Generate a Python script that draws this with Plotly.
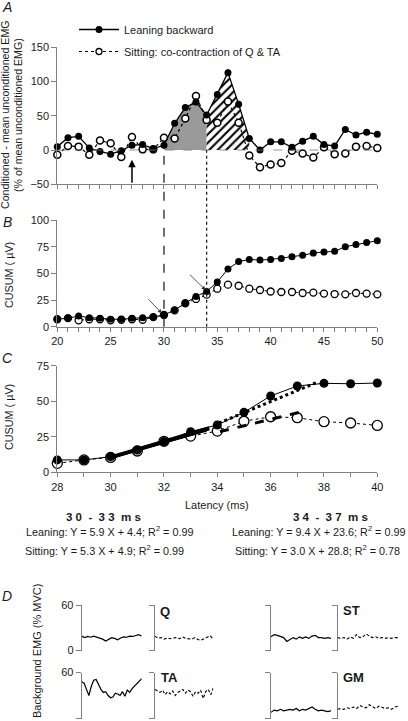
import plotly.graph_objects as go

W, H = 408, 721

# ---------------- data ----------------
lat_a = list(range(20, 51))
lean_a = [5, 18, 20, 3, -2, -6, -1, 7, 8, 2, 7, 39, 62, 70, 51, 81, 113, 67, 17, 0,
          12, 12, 4, 13, 20, 8, 6, 30, 22, 26, 23]
sit_a = [-7, 6, 5, -7, 14, 10, -10, 19, 1, 1, 18, 17, 46, 79, 44, 40, 71, 40, -8, -25,
         -21, -19, -1, -5, -11, 4, -6, -5, 5, 6, 3]
lean_a_err = [4, 4, 4, 3, 3, 3, 3, 4, 4, 3, 3, 4, 4, 5, 4, 4, 5, 5, 4, 3,
              3, 3, 3, 3, 3, 3, 3, 3, 3, 3, 3]
sit_a_err = [4, 4, 4, 4, 4, 4, 4, 5, 4, 4, 5, 4, 5, 5, 4, 4, 5, 5, 4, 4,
             4, 4, 3, 3, 4, 3, 3, 3, 3, 3, 3]

lat_b = list(range(20, 51))
lean_b = [7, 8, 10, 8.5, 8, 7, 7, 8, 8.5, 9, 11, 15.6, 22, 28.4, 33, 42, 54, 61, 63, 62.5,
          63, 64, 65.6, 67, 69, 70, 70.6, 75, 77, 79, 80.6]
sit_b = [7, 8, 6, 7, 7, 6, 6.5, 7, 6.5, 9, 11, 15.3, 22, 26, 30, 35.6, 39.4, 38.4, 35.6, 34.4,
         33, 32.5, 32.5, 31.6, 32, 31, 30.6, 30.3, 31.6, 31, 30.3]

# panel C = zoom on 28-40 ms
lat_c = list(range(28, 41))
lean_c = [8.7, 8.7, 11, 15.7, 21.6, 28.6, 33.3, 42.2, 53.7, 60.7, 62.6, 62.3, 62.8]
sit_c = [6.3, 8.7, 10.5, 15, 21.8, 25.5, 29, 35.9, 39.1, 38.4, 35.6, 34.7, 33]

window_bounds = [30, 34]          # onset of the two analysis windows (ms)
hatch_end = 38

# regression lines as drawn in panel C (start/end latency and CUSUM value)
fit_names = ["lean1", "sit1", "lean2", "sit2"]
fit_x0 = [30, 30, 33.85, 34.1]
fit_y0 = [10.5, 10.2, 33, 28.6]
fit_x1 = [33.7, 33.6, 37.7, 37.35]
fit_y1 = [31, 29.5, 63, 43.4]

eq_left = ["Leaning: Y = 5.9 X + 4.4; R<sup>2</sup> = 0.99",
           "Sitting: Y = 5.3 X + 4.9; R<sup>2</sup> = 0.99"]
eq_right = ["Leaning: Y = 9.4 X + 23.6; R<sup>2</sup> = 0.99",
            "Sitting: Y = 3.0 X + 28.8; R<sup>2</sup> = 0.78"]

# panel D background EMG (% MVC)
q_lean = [19, 17, 18.5, 17.5, 19, 18, 17, 15, 12.5, 15, 17, 16, 14, 16.5, 18, 17.5, 19, 18.5, 20, 21, 19]
q_sit = [19, 16, 17, 15, 16.5, 15.5, 16.5, 17, 15.5, 17.8, 16, 15.5, 15, 17, 14.5, 13.5, 15.5, 18, 19.5, 15]
ta_lean = [48, 46, 38, 30, 42, 50, 51, 44, 38, 34, 35, 30, 27, 28, 33, 32, 30, 35, 29, 37, 34, 39, 42, 45, 48, 52]
ta_sit = [38, 36, 34, 37, 31, 35, 32, 36, 30, 34, 36, 38, 33, 37, 35, 29, 35, 33, 37, 26, 35, 38, 31, 40]
st_lean = [18, 21, 20, 19, 17, 12, 15, 17, 15, 18, 16, 18, 16, 19, 20, 17, 17, 16, 17, 16]
st_sit = [17, 16, 17, 15, 18, 16, 21, 17, 18, 22, 19, 17, 18, 16, 17, 16, 17, 16, 17, 17]
gm_lean = [8, 11, 10, 12, 10, 11, 12, 11, 13, 10, 12, 11, 13, 15, 12, 10, 11, 10, 9, 10]
gm_sit = [12, 13, 12, 14, 13, 15, 13, 17, 15, 14, 18, 15, 13, 16, 14, 13, 14, 12, 15, 16]
muscles = ["Q", "ST", "TA", "GM"]

# ---------------- helpers ----------------
def px(x):
    return x / W

def py(y):
    return 1 - y / H

FONT = "Liberation Sans, Arial, sans-serif"
TXT = "#1a1a1a"
AX = "#808080"
FS = 11

fig = go.Figure()

# ---------------- panel A ----------------
g_x = [x for x in lat_a if window_bounds[0] <= x <= window_bounds[1]]
g_y = [lean_a[lat_a.index(x)] for x in g_x]
fig.add_trace(go.Scatter(x=g_x + [g_x[-1], g_x[0]], y=g_y + [0, 0], fill="toself",
                         fillcolor="#9a9a9a", line=dict(width=0), mode="lines",
                         hoverinfo="skip", showlegend=False, xaxis="x", yaxis="y"))
h_x = [x for x in lat_a if window_bounds[1] <= x <= hatch_end]
h_y = [lean_a[lat_a.index(x)] for x in h_x]
fig.add_trace(go.Scatter(x=h_x + [h_x[-1], h_x[0]], y=h_y + [0, 0], fill="toself",
                         fillcolor="white",
                         fillpattern=dict(shape="/", fgcolor="black", bgcolor="white",
                                          size=6, solidity=0.35),
                         line=dict(width=0), mode="lines",
                         hoverinfo="skip", showlegend=False, xaxis="x", yaxis="y"))

fig.add_trace(go.Scatter(x=lat_a, y=sit_a, mode="lines+markers",
                         name="Sitting: co-contraction of Q & TA",
                         line=dict(color="black", width=1.2, dash="dot"),
                         marker=dict(symbol="circle", size=7, color="white",
                                     line=dict(color="black", width=1.5)),
                         error_y=dict(type="data", array=sit_a_err, color="black",
                                      thickness=1, width=0),
                         cliponaxis=False, showlegend=False, xaxis="x", yaxis="y"))
fig.add_trace(go.Scatter(x=lat_a, y=lean_a, mode="lines+markers",
                         name="Leaning backward",
                         line=dict(color="black", width=1.3),
                         marker=dict(symbol="circle", size=7, color="black"),
                         error_y=dict(type="data", array=lean_a_err, color="black",
                                      thickness=1, width=0),
                         cliponaxis=False, showlegend=False, xaxis="x", yaxis="y"))

# legend-only traces
fig.add_trace(go.Scatter(x=[None], y=[None], mode="lines+markers", name="Leaning backward",
                         legendgroup="g1",
                         line=dict(color="black", width=1.3),
                         marker=dict(symbol="circle", size=7, color="black"),
                         xaxis="x", yaxis="y"))
fig.add_trace(go.Scatter(x=[None], y=[None], mode="lines+markers",
                         name="Sitting: co-contraction of Q & TA", legendgroup="g2",
                         line=dict(color="black", width=1.2, dash="dot"),
                         marker=dict(symbol="circle", size=6, color="white",
                                     line=dict(color="black", width=1.3)),
                         xaxis="x", yaxis="y"))

# ---------------- panel B ----------------
fig.add_trace(go.Scatter(x=lat_b, y=sit_b, mode="lines+markers",
                         line=dict(color="black", width=1, dash="dot"),
                         marker=dict(symbol="circle", size=7, color="white",
                                     line=dict(color="black", width=1.3)),
                         cliponaxis=False, showlegend=False, xaxis="x2", yaxis="y2"))
fig.add_trace(go.Scatter(x=lat_b, y=lean_b, mode="lines+markers",
                         line=dict(color="black", width=1),
                         marker=dict(symbol="circle", size=7, color="black"),
                         cliponaxis=False, showlegend=False, xaxis="x2", yaxis="y2"))

# ---------------- panel C ----------------
fig.add_trace(go.Scatter(x=lat_c, y=sit_c, mode="lines+markers",
                         line=dict(color="black", width=1, dash="dot"),
                         marker=dict(symbol="circle", size=10, color="white",
                                     line=dict(color="black", width=1.3)),
                         cliponaxis=False, showlegend=False, xaxis="x3", yaxis="y3"))
fig.add_trace(go.Scatter(x=lat_c, y=lean_c, mode="lines+markers",
                         line=dict(color="black", width=1),
                         marker=dict(symbol="circle", size=9, color="black"),
                         cliponaxis=False, showlegend=False, xaxis="x3", yaxis="y3"))

fit_styles = {"lean1": dict(width=4, dash="solid"),
              "sit1": dict(width=2.5, dash="solid"),
              "lean2": dict(width=3, dash="dot"),
              "sit2": dict(width=3, dash="dash")}
for n, x0, y0, x1, y1 in zip(fit_names, fit_x0, fit_y0, fit_x1, fit_y1):
    fig.add_trace(go.Scatter(x=[x0, x1], y=[y0, y1], mode="lines",
                             line=dict(color="black", **fit_styles[n]),
                             showlegend=False, xaxis="x3", yaxis="y3"))

# ---------------- panel D ----------------
d_pairs = [(q_lean, q_sit), (st_lean, st_sit), (ta_lean, ta_sit), (gm_lean, gm_sit)]
ax_i = 4
for lean_d, sit_d in d_pairs:
    fig.add_trace(go.Scatter(x=list(range(len(lean_d))), y=lean_d, mode="lines",
                             line=dict(color="black", width=1.2), showlegend=False,
                             xaxis=f"x{ax_i}", yaxis=f"y{ax_i}"))
    fig.add_trace(go.Scatter(x=list(range(len(sit_d))), y=sit_d, mode="lines",
                             line=dict(color="black", width=1.1, dash="3px,2px"),
                             showlegend=False,
                             xaxis=f"x{ax_i + 1}", yaxis=f"y{ax_i + 1}"))
    ax_i += 2

# ---------------- axes ----------------
xdom = [px(57.3), px(377.3)]
common_ax = dict(showgrid=False, zeroline=False, showline=True, linecolor=AX, linewidth=1,
                 ticks="outside", tickcolor=AX, tickwidth=1, automargin=False,
                 tickfont=dict(family=FONT, size=FS, color=TXT))

layout = dict(
    xaxis=dict(domain=xdom, range=[20, 50], dtick=5, tick0=20, ticklen=4,
               showticklabels=False, anchor="y",
               minor=dict(dtick=1, ticks="outside", ticklen=4, tickcolor=AX), **common_ax),
    yaxis=dict(domain=[py(184.3), py(47.3)], range=[-50, 150], dtick=50, ticklen=5,
               anchor="x", **common_ax),
    xaxis2=dict(domain=xdom, range=[20, 50], dtick=5, tick0=20, ticklen=4, anchor="y2",
                minor=dict(dtick=1, ticks="outside", ticklen=4, tickcolor=AX), **common_ax),
    yaxis2=dict(domain=[py(326.7), py(220)], range=[0, 100], dtick=25, ticklen=5,
                anchor="x2", **common_ax),
    xaxis3=dict(domain=xdom, range=[28, 40], dtick=2, tick0=28, ticklen=4, anchor="y3",
                minor=dict(dtick=1, ticks="outside", ticklen=4, tickcolor=AX), **common_ax),
    yaxis3=dict(domain=[py(472.3), py(365.7)], range=[0, 75], dtick=25, ticklen=5,
                anchor="x3", **common_ax),
)

d_x_doms = [[px(81.7), px(141.7)], [px(155), px(213.3)],
            [px(271), px(331)], [px(337.5), px(398)]]
d_y_doms = [[py(650.5), py(605)], [py(718.5), py(672.5)]]
d_layout = [(0, 0), (0, 1), (1, 0), (1, 1)]
ax_i = 4
for (row, col), (lean_d, sit_d) in zip(d_layout, d_pairs):
    for k, series in enumerate([lean_d, sit_d]):
        xd = d_x_doms[col * 2 + k]
        show_lbl = (col == 0 and k == 0)
        layout[f"xaxis{ax_i}"] = dict(domain=xd, range=[0, len(series) - 1], visible=False,
                                      automargin=False, anchor=f"y{ax_i}")
        layout[f"yaxis{ax_i}"] = dict(domain=d_y_doms[row], range=[0, 60],
                                      tickvals=[0, 60], ticklen=5,
                                      showticklabels=show_lbl, anchor=f"x{ax_i}",
                                      **common_ax)
        ax_i += 1

# ---------------- shapes ----------------
shapes = [
    dict(type="line", xref="x", yref="y", x0=20, x1=50, y0=0, y1=0,
         line=dict(color="#777777", width=0.8, dash="dash")),
    dict(type="line", xref="x", yref="paper", x0=window_bounds[0], x1=window_bounds[0],
         y0=py(326.7), y1=py(150), line=dict(color="#222222", width=1.3, dash="dash")),
    dict(type="line", xref="x", yref="paper", x0=window_bounds[1], x1=window_bounds[1],
         y0=py(326.7), y1=py(150), line=dict(color="#222222", width=1.3, dash="dot")),
]

# ---------------- annotations ----------------
def txt(x, y, s, size=FS, bold=False, italic=False, angle=0, xanchor="center"):
    if bold:
        s = f"<b>{s}</b>"
    if italic:
        s = f"<i>{s}</i>"
    return dict(x=px(x), y=py(y), xref="paper", yref="paper", text=s, showarrow=False,
                textangle=angle, xanchor=xanchor, yanchor="middle",
                font=dict(family=FONT, size=size, color=TXT))

EQ = 10.8
ann = [
    txt(7, 7, "A", size=14, italic=True),
    txt(7, 222, "B", size=14, italic=True),
    txt(7, 358, "C", size=14, italic=True),
    txt(7, 596, "D", size=14, italic=True),
    txt(5, 115, "Conditioned - mean unconditioned EMG", size=10.6, angle=-90),
    txt(18, 115, "(% of mean unconditioned EMG)", size=10.6, angle=-90),
    txt(9, 275, "CUSUM ( µV)", size=10.8, angle=-90),
    txt(9, 417, "CUSUM ( µV)", size=10.8, angle=-90),
    txt(217, 505, "Latency (ms)", size=FS),
    txt(103, 517, "3 0  -  3 3  m s", size=11.5, bold=True),
    txt(330, 517, "3 4  -  3 7  m s", size=11.5, bold=True),
    txt(109, 531, eq_left[0], size=EQ),
    txt(105, 550, eq_left[1], size=EQ),
    txt(318, 531, eq_right[0], size=EQ),
    txt(317, 550, eq_right[1], size=EQ),
    txt(37, 651, "Background EMG (% MVC)", size=FS, angle=-90),
    txt(158, 611, muscles[0], size=13, bold=True, xanchor="left"),
    txt(341, 610, muscles[1], size=13, bold=True, xanchor="left"),
    txt(159, 677, muscles[2], size=13, bold=True, xanchor="left"),
    txt(341, 677, muscles[3], size=13, bold=True, xanchor="left"),
    dict(x=27, y=-14, ax=27, ay=-50, xref="x", yref="y", axref="x", ayref="y",
         text="", showarrow=True, arrowhead=2, arrowsize=1, arrowwidth=1.5,
         arrowcolor="black"),
    dict(x=29.8, y=12.6, ax=28.4, ay=27.2, xref="x2", yref="y2", axref="x2", ayref="y2",
         text="", showarrow=True, arrowhead=2, arrowsize=1, arrowwidth=0.8,
         arrowcolor="#333333"),
    dict(x=33.9, y=34.4, ax=32.3, ay=50, xref="x2", yref="y2", axref="x2", ayref="y2",
         text="", showarrow=True, arrowhead=2, arrowsize=1, arrowwidth=0.8,
         arrowcolor="#333333"),
]

fig.update_layout(
    template="none",
    width=W, height=H, margin=dict(l=0, r=0, t=0, b=0, pad=0), autosize=False,
    paper_bgcolor="white", plot_bgcolor="white",
    showlegend=True,
    legend=dict(x=px(74), y=py(15), xanchor="left", yanchor="top",
                bgcolor="rgba(0,0,0,0)", borderwidth=0,
                font=dict(family=FONT, size=FS, color=TXT), itemwidth=40,
                tracegroupgap=3),
    shapes=shapes, annotations=ann,
    font=dict(family=FONT, color=TXT),
    **layout,
)

fig.write_html("out.html", config={"displayModeBar": False},
               post_script="document.body.style.margin='0px';document.body.style.overflow='hidden';")
